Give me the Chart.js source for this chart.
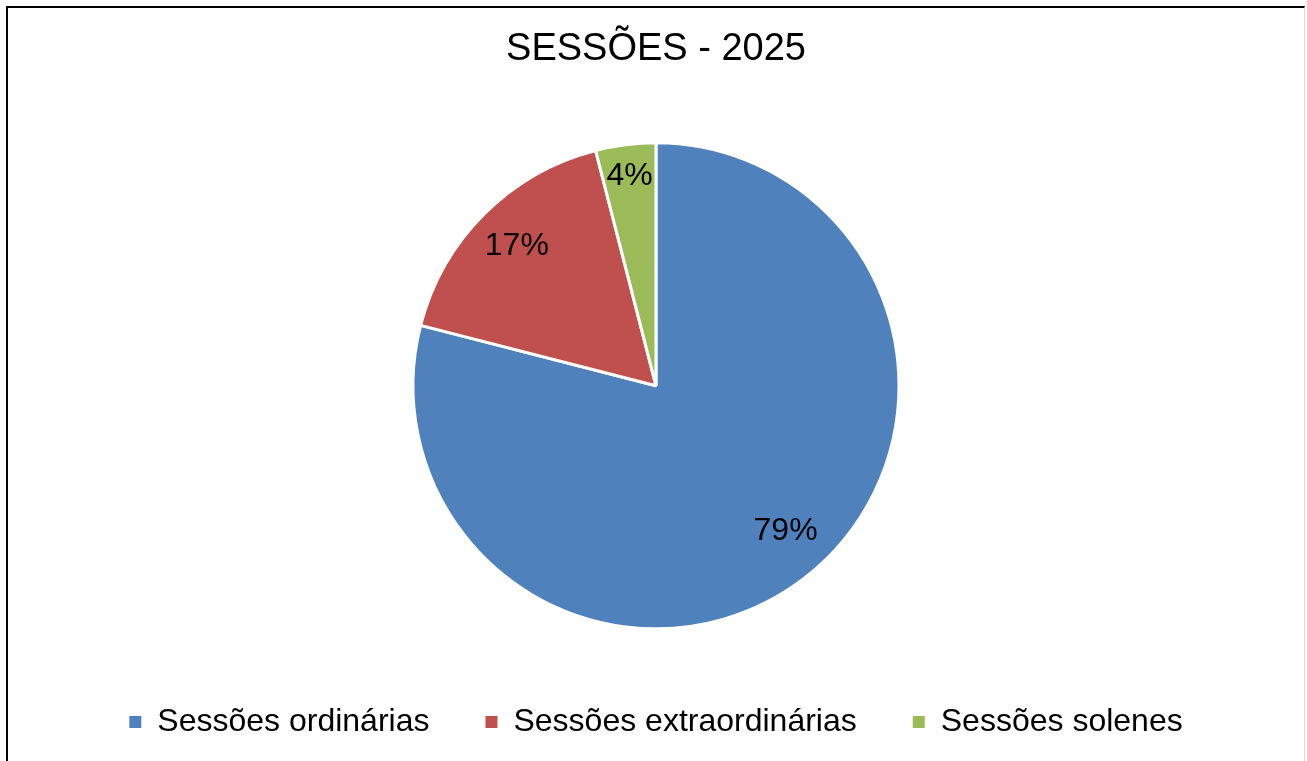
<!DOCTYPE html>
<html>
<head>
<meta charset="utf-8">
<script src="https://cdn.jsdelivr.net/npm/chart.js@4/dist/chart.umd.min.js"></script>
<style>
    html, body { margin: 0; padding: 0; background: #fff; overflow: hidden; }
    #frame {
        position: absolute; left: 6px; top: 6px;
        width: 1296px; height: 753px;
        border-left: 2px solid #000; border-top: 2px solid #000;
        border-right: 1px solid #d9d9d9;
    }
</style>
</head>
<body>
<div id="frame"><canvas id="sessoesChart"></canvas></div>
<script>
const categories = ['Sessões ordinárias', 'Sessões extraordinárias', 'Sessões solenes'];
const shares = [79, 17, 4];
const pctLabels = ['79%', '17%', '4%'];
const colors = ['#4F81BD', '#C0504D', '#9BBB59'];

const FONT = '"Liberation Sans", Arial, sans-serif';

// percentage labels drawn inside each slice
const sliceLabels = {
    id: 'sliceLabels',
    afterDatasetsDraw(chart) {
        const ctx = chart.ctx;
        const meta = chart.getDatasetMeta(0);
        const radial = [0.80, 0.81, 0.87];
        const shift = [-0.07, 0, 0];
        ctx.save();
        ctx.font = '32px ' + FONT;
        ctx.fillStyle = '#000';
        ctx.textAlign = 'center';
        ctx.textBaseline = 'middle';
        meta.data.forEach((arc, i) => {
            const p = arc.getProps(['x', 'y', 'startAngle', 'endAngle', 'outerRadius'], true);
            const mid = (p.startAngle + p.endAngle) / 2 + shift[i];
            const r = p.outerRadius * radial[i];
            ctx.fillText(pctLabels[i], p.x + Math.cos(mid) * r, p.y + Math.sin(mid) * r);
        });
        ctx.restore();
    }
};

(function () {
    const canvas = document.getElementById('sessoesChart');
    new Chart(canvas, {
        type: 'pie',
        data: {
            labels: categories,
            datasets: [{
                data: shares,
                backgroundColor: colors,
                borderColor: '#fff',
                borderWidth: 3,
            }],
        },
        options: {
            responsive: true,
            maintainAspectRatio: false,
            animation: false,
            radius: 243,
            layout: { padding: { top: 0, bottom: 13 } },
            plugins: {
                title: {
                    display: true,
                    text: 'SESSÕES - 2025',
                    color: '#000',
                    font: { family: FONT, size: 38, weight: 'normal' },
                    padding: { top: 19, bottom: 49 },
                },
                legend: {
                    position: 'bottom',
                    labels: {
                        color: '#000',
                        font: { family: FONT, size: 32 },
                        boxWidth: 12,
                        boxHeight: 12,
                        padding: 56,
                        generateLabels(chart) {
                            const items = Chart.overrides.pie.plugins.legend.labels.generateLabels(chart);
                            return items.map(it => Object.assign(it, { lineWidth: 0 }));
                        },
                    },
                },
                tooltip: { enabled: false },
            },
        },
        plugins: [sliceLabels],
    });
})();
</script>
</body>
</html>
